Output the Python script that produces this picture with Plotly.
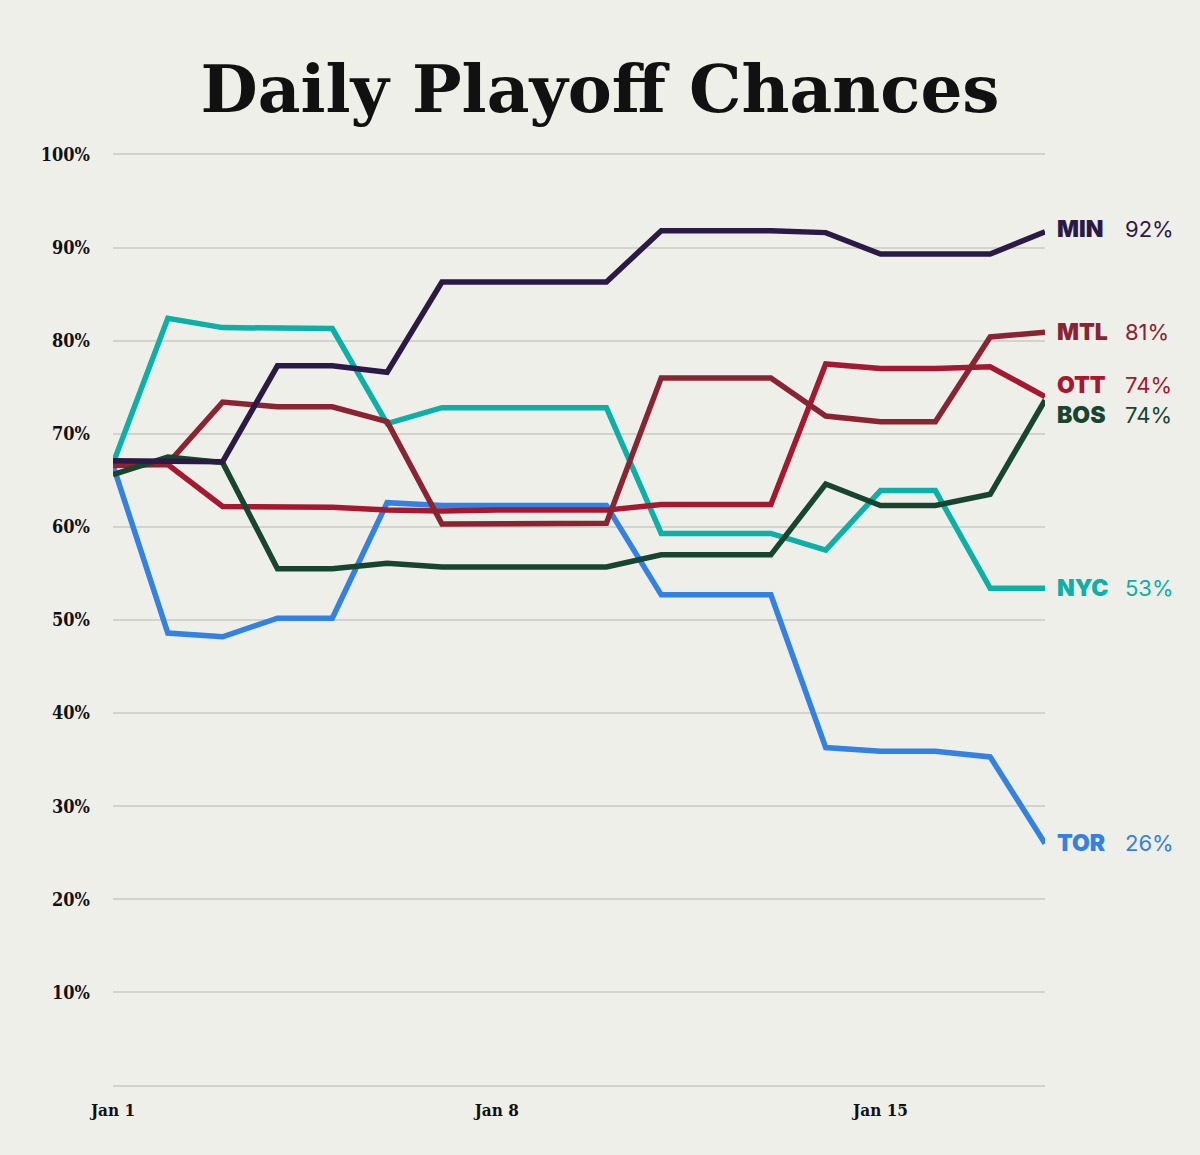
import plotly.graph_objects as go

days = ["Jan 1", "Jan 2", "Jan 3", "Jan 4", "Jan 5", "Jan 6", "Jan 7", "Jan 8", "Jan 9",
        "Jan 10", "Jan 11", "Jan 12", "Jan 13", "Jan 14", "Jan 15", "Jan 16", "Jan 17", "Jan 18"]
x_idx = list(range(len(days)))

tor = [66.6, 48.6, 48.2, 50.2, 50.2, 62.6, 62.3, 62.3, 62.3, 62.3, 52.7, 52.7, 52.7, 36.3, 35.9, 35.9, 35.3, 26.0]
nyc = [66.8, 82.4, 81.4, 81.3, 81.3, 71.1, 72.8, 72.8, 72.8, 72.8, 59.3, 59.3, 59.3, 57.5, 63.9, 63.9, 53.4, 53.4]
ott = [66.6, 66.7, 62.2, 62.1, 62.1, 61.8, 61.7, 61.8, 61.8, 61.8, 62.4, 62.4, 62.4, 77.5, 77.0, 77.0, 77.2, 74.0]
mtl = [66.8, 66.8, 73.4, 72.9, 72.9, 71.3, 60.3, 60.3, 60.3, 60.4, 76.0, 76.0, 76.0, 71.9, 71.3, 71.3, 80.4, 80.9]
bos = [65.6, 67.5, 66.9, 55.5, 55.5, 56.1, 55.7, 55.7, 55.7, 55.7, 57.0, 57.0, 57.0, 64.6, 62.3, 62.3, 63.5, 73.6]
mn = [67.1, 67.1, 67.0, 77.3, 77.3, 76.6, 86.3, 86.3, 86.3, 86.3, 91.8, 91.8, 91.8, 91.6, 89.3, 89.3, 89.3, 91.7]

teams = ["TOR", "NYC", "OTT", "MTL", "BOS", "MIN"]
series = [tor, nyc, ott, mtl, bos, mn]
colors = ["#3381E2", "#0BB0A6", "#A5182F", "#8A2433", "#17452F", "#2B1A45"]
final_labels = ["26%", "53%", "74%", "81%", "74%", "92%"]
label_shift = [0, 0, 12, 0, -15, 3]

y_ticks = [0, 10, 20, 30, 40, 50, 60, 70, 80, 90, 100]
y_ticktext = ["", "10%", "20%", "30%", "40%", "50%", "60%", "70%", "80%", "90%", "100%"]
x_ticks = [0, 7, 14]
x_ticktext = ["Jan 1", "Jan 8", "Jan 15"]

fig = go.Figure()
for name, vals, col in zip(teams, series, colors):
    fig.add_trace(go.Scatter(x=x_idx, y=vals, mode="lines", name=name,
                             line=dict(color=col, width=5.5), hoverinfo="skip"))

annotations = []
for name, vals, col, lab, sh in zip(teams, series, colors, final_labels, label_shift):
    annotations.append(dict(x=x_idx[-1], y=vals[-1], xref="x", yref="y", text=name,
                            showarrow=False, xanchor="left", yanchor="middle",
                            xshift=10, yshift=sh,
                            font=dict(family="Inter", size=23, color=col, weight=900)))
    annotations.append(dict(x=x_idx[-1], y=vals[-1], xref="x", yref="y", text=lab,
                            showarrow=False, xanchor="left", yanchor="middle",
                            xshift=78, yshift=sh,
                            font=dict(family="Inter", size=22, color=col, weight=400)))

fig.update_layout(
    width=1200, height=1155,
    paper_bgcolor="#EFEFEA", plot_bgcolor="#EFEFEA",
    margin=dict(l=113, r=155, t=153, b=68),
    showlegend=False,
    title=dict(text="<b>Daily Playoff Chances</b>", x=0.5, xanchor="center",
               y=1 - 89 / 1155, yanchor="middle", yref="container",
               font=dict(family="DejaVu Serif", size=66, color="#111111")),
    xaxis=dict(range=[0, 17], tickvals=x_ticks, ticktext=x_ticktext, showgrid=False,
               zeroline=False, showline=False, ticks="", ticklabelstandoff=11,
               tickfont=dict(family="DejaVu Serif Condensed", size=17, color="#111111", weight=700)),
    yaxis=dict(range=[-0.15, 100.15], tickvals=y_ticks, ticktext=y_ticktext, showgrid=True,
               gridcolor="#D3D3CE", gridwidth=2, zeroline=False, showline=False, ticks="",
               ticklabelstandoff=22,
               tickfont=dict(family="DejaVu Serif Condensed", size=18, color="#111111", weight=700)),
    annotations=annotations,
)

fig.write_html("out.html", config={"displayModeBar": False},
               post_script="document.body.style.margin='0';document.body.style.background='#EFEFEA';")
